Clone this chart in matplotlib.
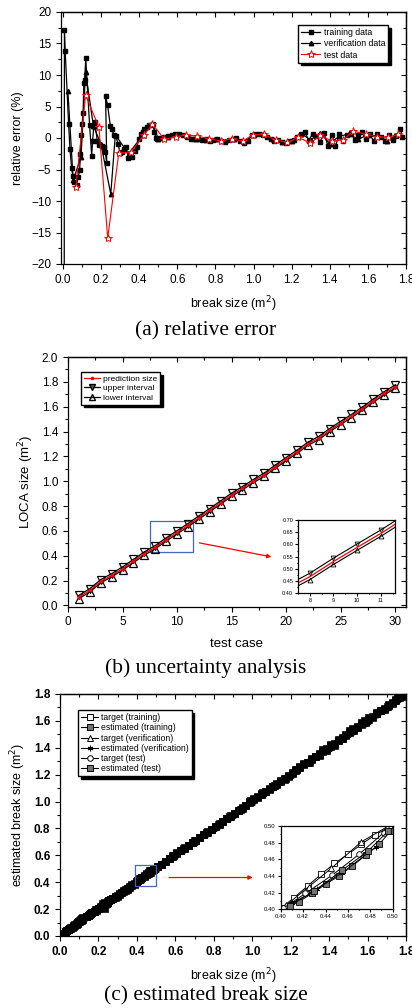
import matplotlib
matplotlib.use("Agg")
import matplotlib.pyplot as plt
from matplotlib.patches import Rectangle
from matplotlib.lines import Line2D
from matplotlib.ticker import MultipleLocator
import numpy as np

plt.rcParams['font.family'] = 'Liberation Sans'
plt.rcParams['axes.linewidth'] = 0.9

# ---------------- (a) relative error ----------------
train_x = [0.006, 0.008, 0.012, 0.030, 0.037, 0.046, 0.052, 0.058, 0.072, 0.080,
           0.088, 0.092, 0.096, 0.101, 0.106, 0.110, 0.114, 0.120, 0.140, 0.151,
           0.156, 0.162, 0.168, 0.180, 0.191, 0.203, 0.214, 0.222, 0.230, 0.224,
           0.234, 0.249, 0.257, 0.267, 0.278, 0.290, 0.300, 0.312, 0.322, 0.333,
           0.343, 0.352, 0.365, 0.376, 0.388, 0.398, 0.408, 0.418, 0.428, 0.440,
           0.452, 0.462, 0.472, 0.480, 0.488, 0.496,
           0.51, 0.53, 0.55, 0.57, 0.59, 0.61, 0.63, 0.65, 0.67, 0.69,
           0.71, 0.73, 0.75, 0.77, 0.79, 0.81, 0.83, 0.85, 0.87, 0.89,
           0.91, 0.93, 0.95, 0.97, 0.99, 1.01, 1.03, 1.05, 1.07, 1.09,
           1.11, 1.13, 1.15, 1.17, 1.19, 1.21, 1.23, 1.25, 1.27, 1.29,
           1.31, 1.33, 1.35, 1.37, 1.39, 1.41, 1.43, 1.45, 1.47, 1.49,
           1.51, 1.53, 1.55, 1.57, 1.59, 1.61, 1.63, 1.65, 1.67, 1.69,
           1.71, 1.73, 1.75, 1.77, 1.78]
train_err = [-60.0, 17.2, 13.8, 2.2, -1.8, -4.8, -6.0, -7.0, -7.4, -6.2,
             -5.0, -2.5, 0.4, 2.3, 4.0, 8.8, 9.2, 12.7, 2.0, -2.8,
             -0.4, 1.9, 2.6, -0.4, -1.1, -1.3, -1.4, -2.2, -4.0, 6.6,
             5.3, 1.9, 1.4, 0.5, 0.3, -1.0, -2.4, -2.2, -1.8, -1.5,
             -3.1, -2.6, -3.0, -2.0, -1.4, -0.2, 0.6, 0.9, 1.4, 1.8,
             2.0, 2.1, 2.2, 1.0, 0.0, -0.2,
             0.0, 0.1, 0.3, 0.5, 0.7, 0.6, 0.4, 0.2, -0.1, -0.2,
             -0.1, -0.3, -0.2, -0.5, -0.3, -0.1, -0.4, -0.6, -0.3, -0.2,
             0.0, -0.4, -0.8, -0.5, 0.4, 0.6, 0.7, 0.5, 0.2, -0.2,
             -0.4, -0.3, -0.6, -0.8, -0.5, -0.3, 0.1, 0.6, 0.9, -0.4,
             0.7, 0.3, -0.6, 0.8, -1.2, 0.5, -1.3, 0.6, -0.5, 0.4,
             0.8, -0.3, 0.5, 0.9, -0.2, 0.6, -0.5, 0.7, 0.2, -0.4,
             0.5, -0.3, 0.3, 1.5, 0.2]

verif_x = [0.026, 0.054, 0.095, 0.119, 0.160, 0.200, 0.251, 0.275, 0.345, 0.420,
           0.470, 0.50, 0.55, 0.60, 0.65, 0.70, 0.75, 0.80, 0.85, 0.90,
           0.95, 1.00, 1.05, 1.10, 1.15, 1.20, 1.25, 1.30, 1.35, 1.40,
           1.45, 1.50, 1.55, 1.60, 1.65, 1.70, 1.75]
verif_err = [7.5, -6.7, -3.0, 10.5, 1.9, -1.0, -8.9, 0.5, -2.5, 0.5,
             2.3, -0.1, 0.2, 0.7, 0.3, -0.1, -0.3, -0.2, -0.5, -0.2,
             -0.6, 0.5, 0.6, -0.2, -0.6, -0.5, 0.7, -0.3, 0.8, -0.9,
             0.3, 0.6, -0.2, 0.5, 0.3, -0.4, 0.4]

test_x = [0.068, 0.119, 0.189, 0.235, 0.293, 0.356, 0.423, 0.470, 0.532, 0.593,
          0.647, 0.704, 0.765, 0.828, 0.886, 0.944, 0.996, 1.054, 1.117, 1.177,
          1.235, 1.298, 1.351, 1.411, 1.470, 1.523, 1.588, 1.649, 1.704, 1.760]
test_err = [-7.7, 6.8, 1.7, -15.9, -2.4, -2.3, 0.4, 2.2, -0.2, 0.2,
            0.5, 0.3, -0.1, -0.5, -0.1, -0.5, 0.5, 0.6, -0.3, -0.7,
            0.1, -0.8, 0.4, -0.5, -0.3, 1.1, 0.6, 0.2, 0.1, 0.6]

# ---------------- (b) uncertainty analysis ----------------
case_no = [1, 2, 3, 4, 5, 6, 7, 8, 9, 10, 11, 12, 13, 14, 15,
           16, 17, 18, 19, 20, 21, 22, 23, 24, 25, 26, 27, 28, 29, 30]
pred_size = [0.067, 0.121, 0.194, 0.242, 0.296, 0.357, 0.417, 0.468, 0.530, 0.588,
             0.645, 0.707, 0.766, 0.828, 0.890, 0.943, 1.000, 1.052, 1.115, 1.177,
             1.236, 1.300, 1.347, 1.410, 1.468, 1.524, 1.583, 1.648, 1.707, 1.760]
upper_int = [0.081, 0.135, 0.208, 0.256, 0.310, 0.371, 0.431, 0.482, 0.544, 0.602,
             0.659, 0.721, 0.780, 0.842, 0.904, 0.957, 1.014, 1.066, 1.129, 1.191,
             1.250, 1.314, 1.361, 1.424, 1.482, 1.538, 1.597, 1.662, 1.721, 1.774]
lower_int = [0.055, 0.109, 0.182, 0.230, 0.284, 0.345, 0.405, 0.456, 0.518, 0.576,
             0.633, 0.695, 0.754, 0.816, 0.878, 0.931, 0.988, 1.040, 1.103, 1.165,
             1.224, 1.288, 1.335, 1.398, 1.456, 1.512, 1.571, 1.636, 1.695, 1.748]

# ---------------- (c) estimated break size, zoomed region ----------------
zt_train_x = [0.400, 0.412, 0.424, 0.436, 0.448, 0.460, 0.472, 0.484, 0.497]
zt_train_y = [0.401, 0.414, 0.428, 0.442, 0.455, 0.466, 0.478, 0.489, 0.499]
ze_train_x = [0.404, 0.416, 0.428, 0.440, 0.452, 0.464, 0.476, 0.488, 0.498]
ze_train_y = [0.401, 0.409, 0.419, 0.430, 0.440, 0.452, 0.465, 0.478, 0.494]
zt_verif_x = [0.405, 0.425, 0.445, 0.472, 0.495]
zt_verif_y = [0.405, 0.427, 0.449, 0.481, 0.499]
ze_verif_x = [0.410, 0.432, 0.455, 0.485]
ze_verif_y = [0.407, 0.424, 0.444, 0.475]
zt_test_x = [0.402, 0.422, 0.446, 0.470, 0.492]
zt_test_y = [0.401, 0.419, 0.441, 0.466, 0.492]
ze_test_x = [0.408, 0.430, 0.455, 0.478, 0.496]
ze_test_y = [0.404, 0.422, 0.447, 0.470, 0.494]


def origin_style(ax, xmaj, xmin, ymaj, ymin, fs, bold=False, mirror=True):
    ax.xaxis.set_major_locator(MultipleLocator(xmaj))
    ax.xaxis.set_minor_locator(MultipleLocator(xmin))
    ax.yaxis.set_major_locator(MultipleLocator(ymaj))
    ax.yaxis.set_minor_locator(MultipleLocator(ymin))
    ax.tick_params(which='both', direction='out', labelsize=fs, width=0.8)
    ax.tick_params(which='major', length=3.5)
    ax.tick_params(which='minor', length=2)
    if bold:
        for lb in ax.get_xticklabels() + ax.get_yticklabels():
            lb.set_fontweight('bold')
    if mirror:
        sx = ax.secondary_xaxis('top')
        sx.xaxis.set_major_locator(MultipleLocator(xmaj))
        sx.xaxis.set_minor_locator(MultipleLocator(xmin))
        sx.tick_params(which='both', direction='in', width=0.8)
        sx.tick_params(which='major', length=3.5)
        sx.tick_params(which='minor', length=2)
        sx.set_xticklabels([])
        sy = ax.secondary_yaxis('right')
        sy.yaxis.set_major_locator(MultipleLocator(ymaj))
        sy.yaxis.set_minor_locator(MultipleLocator(ymin))
        sy.tick_params(which='both', direction='in', width=0.8)
        sy.tick_params(which='major', length=3.5)
        sy.tick_params(which='minor', length=2)
        sy.set_yticklabels([])


shadow = {'color': 'black', 'alpha': 1.0}
fig = plt.figure(figsize=(4.12, 10.08), dpi=100)

# ---- panel (a) ----
ax1 = fig.add_axes([61 / 412, 1 - 264 / 1008, 345 / 412, 252 / 1008])
ax1.plot(train_x, train_err, '-s', color='black', lw=0.9, ms=3.0, label='training data')
ax1.plot(verif_x, verif_err, '-^', color='black', lw=0.9, ms=3.2, label='verification data')
ax1.plot(test_x, test_err, '-*', color='red', lw=0.8, ms=6, mfc='white', mec='red',
         mew=0.7, label='test data')
ax1.set_xlim(-0.01, 1.8)
ax1.set_ylim(-20, 20)
origin_style(ax1, 0.2, 0.1, 5, 2.5, 8.5)
ax1.set_xlabel('break size (m$^2$)', fontsize=9, labelpad=6)
ax1.set_ylabel('relative error (%)', fontsize=9, labelpad=5)
ax1.legend(loc='upper left', bbox_to_anchor=(0.687, 0.948), borderaxespad=0,
           fontsize=6.3, frameon=True, fancybox=False, edgecolor='black',
           shadow=shadow, handlelength=2.2, handletextpad=0.4, labelspacing=0.25,
           borderpad=0.35, framealpha=1)
fig.text(0.5, 1 - 331 / 1008, '(a) relative error', ha='center', va='center',
         family='Liberation Serif', fontsize=15.4)

# ---- panel (b) ----
ax2 = fig.add_axes([68 / 412, 1 - 606.7 / 1008, 338 / 412, 249.7 / 1008])
ax2.plot(case_no, upper_int, '-v', color='black', lw=0.9, ms=6, mfc='none', mec='black',
         mew=0.9, label='upper interval')
ax2.plot(case_no, lower_int, '-^', color='black', lw=0.9, ms=6, mfc='none', mec='black',
         mew=0.9, label='lower interval')
ax2.plot(case_no, pred_size, '-o', color='red', lw=0.9, ms=1.6, label='prediction size')
ax2.set_xlim(0, 31)
ax2.set_ylim(-0.01, 2.0)
origin_style(ax2, 5, 2.5, 0.2, 0.1, 8.5)
ax2.set_xlabel('test case', fontsize=9.5, labelpad=7)
ax2.set_ylabel('LOCA size (m$^2$)', fontsize=9.5, labelpad=4)
h, l = ax2.get_legend_handles_labels()
leg_b = [Line2D([], [], color='red', lw=0.9, marker='o', ms=1.6),
         Line2D([], [], color='black', lw=0.9, marker='v', ms=5, mfc='0.35', mec='black'),
         Line2D([], [], color='black', lw=0.9, marker='^', ms=5, mfc='none', mec='black')]
ax2.legend(leg_b, [l[2], l[0], l[1]], loc='upper left',
           bbox_to_anchor=(0.038, 0.94), borderaxespad=0, fontsize=6,
           frameon=True, fancybox=False, edgecolor='black', shadow=shadow,
           handlelength=2.0, handletextpad=0.3, labelspacing=0.2, borderpad=0.35,
           framealpha=1)
ax2.add_patch(Rectangle((7.5, 0.43), 4.0, 0.25, fill=False, edgecolor='#4466bb', lw=0.9))
ax2.annotate('', xy=(18.9, 0.387), xytext=(11.8, 0.508),
             arrowprops=dict(arrowstyle='-|>', color='red', lw=0.9, mutation_scale=6))
fig.text(0.5, 1 - 668 / 1008, '(b) uncertainty analysis', ha='center', va='center',
         family='Liberation Serif', fontsize=15.4)

ins2 = fig.add_axes([298 / 412, 1 - 593.3 / 1008, 97 / 412, 73.3 / 1008])
ins2.plot(case_no, upper_int, '-v', color='black', lw=0.8, ms=3.5, mfc='none', mec='black', mew=0.6)
ins2.plot(case_no, lower_int, '-^', color='black', lw=0.8, ms=3.5, mfc='none', mec='black', mew=0.6)
ins2.plot(case_no, pred_size, '-', color='red', lw=0.9)
ins2.set_xlim(7.5, 11.6)
ins2.set_ylim(0.40, 0.70)
origin_style(ins2, 1, 0.5, 0.05, 0.025, 4, mirror=False)
ins2.tick_params(which='major', length=2, pad=1.5)
ins2.tick_params(which='minor', length=1)

# ---- panel (c) ----
ax3 = fig.add_axes([60 / 412, 1 - 936 / 1008, 346 / 412, 242 / 1008])
train_est = [x * (1 + e / 100) for x, e in zip(train_x[1:], train_err[1:])]
verif_est = [x * (1 + e / 100) for x, e in zip(verif_x, verif_err)]
test_est = [x * (1 + e / 100) for x, e in zip(test_x, test_err)]
series_c = [
    (train_x[1:], train_x[1:], 's', 'white', 'target (training)'),
    (train_x[1:], train_est, 's', '0.45', 'estimated (training)'),
    (verif_x, verif_x, '^', 'white', 'target (verification)'),
    (verif_x, verif_est, (6, 2, 0), 'black', 'estimated (verification)'),
    (test_x, test_x, 'o', 'white', 'target (test)'),
    (test_x, test_est, 's', '0.45', 'estimated (test)'),
]
handles_c = []
for xs, ys, mk, fc, lab in series_c:
    ax3.plot(xs, ys, '-', marker=mk, color='black', lw=1.6, ms=4.5, mfc='black', mec='black',
             mew=1.2)
    handles_c.append(Line2D([], [], color='black', lw=0.8, marker=mk, ms=4, mfc=fc,
                            mec='black', mew=0.7, label=lab))
ax3.set_xlim(0, 1.8)
ax3.set_ylim(0, 1.8)
origin_style(ax3, 0.2, 0.1, 0.2, 0.1, 8.5, bold=True)
ax3.set_xlabel('break size (m$^2$)', fontsize=9, labelpad=6)
ax3.set_ylabel('estimated break size (m$^2$)', fontsize=9, labelpad=4)
ax3.legend(handles=handles_c, loc='upper left', bbox_to_anchor=(0.052, 0.934), borderaxespad=0,
           fontsize=6.2, frameon=True, fancybox=False, edgecolor='black', shadow=shadow,
           handlelength=2.0, handletextpad=0.3, labelspacing=0.15, borderpad=0.35,
           framealpha=1)
ax3.add_patch(Rectangle((0.39, 0.375), 0.11, 0.15, fill=False, edgecolor='#4466bb', lw=0.9,
                        zorder=5))
ax3.annotate('', xy=(1.017, 0.435), xytext=(0.553, 0.435),
             arrowprops=dict(arrowstyle='-|>', color='red', lw=0.9, mutation_scale=6))
fig.text(0.5, 1 - 996 / 1008, '(c) estimated break size', ha='center', va='center',
         family='Liberation Serif', fontsize=15.4)

ins3 = fig.add_axes([280.7 / 412, 1 - 909.3 / 1008, 112 / 412, 83.3 / 1008])
zoom_c = [
    (zt_train_x, zt_train_y, 's', 'white'),
    (ze_train_x, ze_train_y, 's', '0.45'),
    (zt_verif_x, zt_verif_y, '^', 'white'),
    (ze_verif_x, ze_verif_y, (6, 2, 0), 'black'),
    (zt_test_x, zt_test_y, 'o', 'white'),
    (ze_test_x, ze_test_y, 's', '0.45'),
]
for xs, ys, mk, fc in zoom_c:
    ins3.plot(xs, ys, '-', marker=mk, color='black', lw=0.7, ms=4, mfc=fc, mec='black', mew=0.6)
ins3.set_xlim(0.40, 0.50)
ins3.set_ylim(0.40, 0.50)
origin_style(ins3, 0.02, 0.01, 0.02, 0.01, 4.3, mirror=False)
ins3.tick_params(which='major', length=2, pad=1.5)
ins3.tick_params(which='minor', length=1)

fig.savefig('out.png', dpi=100)
